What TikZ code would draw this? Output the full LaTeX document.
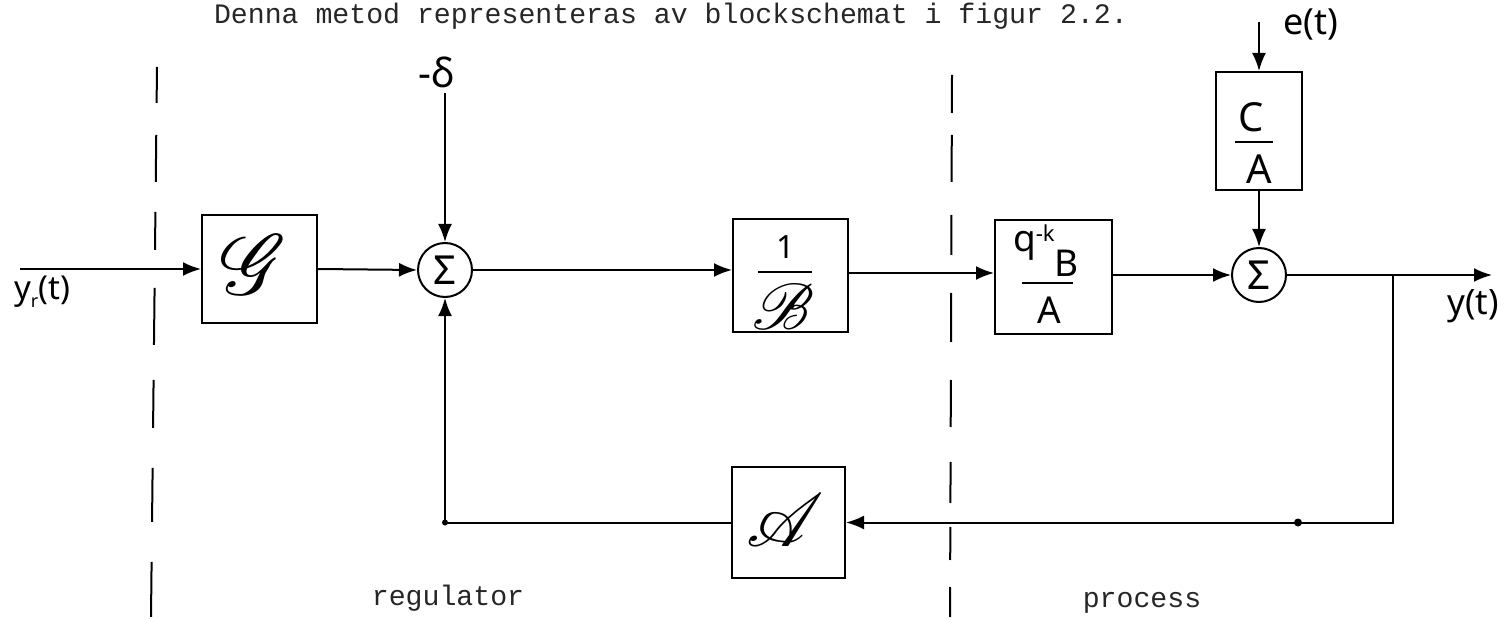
\documentclass[tikz,border=0pt]{standalone}
\usepackage{fontspec}
\usepackage{mathrsfs}
\usetikzlibrary{arrows.meta}
\newfontfamily\typew{Liberation Mono}
\newfontfamily\hand{Noto Sans}
\begin{document}
\begin{tikzpicture}[x=1pt,y=-1pt,line width=2pt,
  blk/.style={draw,line width=2pt,inner sep=0pt},
  sumc/.style={draw,circle,minimum size=54pt,inner sep=0pt,line width=2pt,
    font=\hand\fontsize{40}{40}\selectfont},
  arr/.style={-{Latex[length=18pt,width=14pt]}},
  tw/.style={font=\typew\fontsize{28.2}{30}\selectfont,text=black!85,inner sep=0pt},
  hw/.style={font=\hand\fontsize{40}{40}\selectfont,inner sep=0pt},
  hq/.style={font=\hand\fontsize{37}{37}\selectfont,inner sep=0pt},
  scr/.style={inner sep=0pt},
  fracbar/.style={line width=2pt},
  sep/.style={line width=2pt}]
\useasboundingbox (0,0) rectangle (1507,620);

% title and region labels
\node[tw,anchor=base west] (title) at (213,24) {Denna metod representeras av blockschemat i figur 2.2.};
\node[tw,anchor=base] (reg) at (448,605) {regulator};
\node[tw,anchor=base] (proc) at (1142,607) {process};

% dashed separators
\draw[sep,dash pattern=on 36pt off 32pt on 47pt off 30pt on 38pt off 38pt on 57pt off 35pt on 48pt off 40pt on 54pt off 40pt on 55pt off 20pt]
  (157,67) -- (151,617);
\draw[sep,dash pattern=on 38pt off 22pt on 47pt off 33pt on 40pt off 38pt on 49pt off 38pt on 47pt off 35pt on 41pt off 24pt on 33pt off 27pt on 30pt off 20pt]
  (952,75) -- (950,617);

% blocks
\node[blk,minimum width=115pt,minimum height=108pt] (G) at (259.5,269) {};
\node[scr] (Gt) at (254,265) {\scalebox{8.5}{$\mathscr{G}$}};

\node[sumc] (S1) at (445,270) {Σ};

\node[blk,minimum width=115pt,minimum height=113pt] (B) at (790.5,275.5) {};
\node[scr,font=\hand\fontsize{32}{32}\selectfont] (Bone) at (786,247) {1};
\draw[fracbar] (758,272) -- (812,272);
\node[scr] (Bt) at (783,307) {\scalebox{6.5}{$\mathscr{B}$}};

\node[blk,minimum width=117pt,minimum height=114pt] (Q) at (1053.5,277) {};
\node[hq,anchor=base west] (Qnum) at (1012,252) {q\raisebox{10pt}{\fontsize{22}{22}\selectfont -k}\hspace{0pt}\raisebox{-25pt}{B}};
\draw[fracbar] (1022,283) -- (1073,283);
\node[hq] (QA) at (1049,310) {A};

\node[blk,minimum width=86pt,minimum height=118pt] (CA) at (1259,131) {};
\node[hw] (CAc) at (1251,117) {C};
\draw[fracbar] (1235,142) -- (1273,142);
\node[hw] (CAa) at (1259,169) {A};

\node[sumc] (S2) at (1259,275) {Σ};

\node[blk,minimum width=113pt,minimum height=111pt] (A) at (788.5,522.5) {};
\node[scr] (At) at (785,520) {\scalebox{7.5}{$\mathscr{A}$}};

% signal labels
\node[hw,font=\hand\bfseries\fontsize{40}{40}\selectfont] (delta) at (437,72) {-δ};
\node[hw,font=\hand\bfseries\fontsize{36}{36}\selectfont] (elab) at (1311,24) {e(t)};
\node[hw,font=\hand\fontsize{35}{35}\selectfont] (ylab) at (1473,306) {y(t)};
\node[hw,font=\hand\fontsize{33}{33}\selectfont] (yrlab) at (42,292) {y\raisebox{-8pt}{\fontsize{18}{18}\selectfont r}(t)};

% connection points
\coordinate (in) at (20,269);
\coordinate (dtop) at (445,93);
\coordinate (etop) at (1259,22);
\coordinate (out) at (1492,275);
\coordinate (j) at (1393,275);
\coordinate (fbdot) at (1298,522.5);

% connectors
\draw[arr] (in) -- (G.west);
\draw[arr] (G.east) -- (S1.west);
\draw[arr] (dtop) -- (S1.north);
\draw[arr] (S1.east) -- (S1.east -| B.west);
\draw[arr] (B.east |- 0,273) -- (Q.west |- 0,273);
\draw[arr] (Q.east |- S2.west) -- (S2.west);
\draw[arr] (etop) -- (CA.north);
\draw[arr] (CA.south) -- (S2.north);
\draw[arr] (S2.east) -- (out);
\draw[arr] (j) |- (A.east);
\draw[arr] (A.west) -| (S1.south);
\fill (fbdot) circle (4pt);
\fill (A.west -| S1.south) circle (3pt);
\end{tikzpicture}
\end{document}
